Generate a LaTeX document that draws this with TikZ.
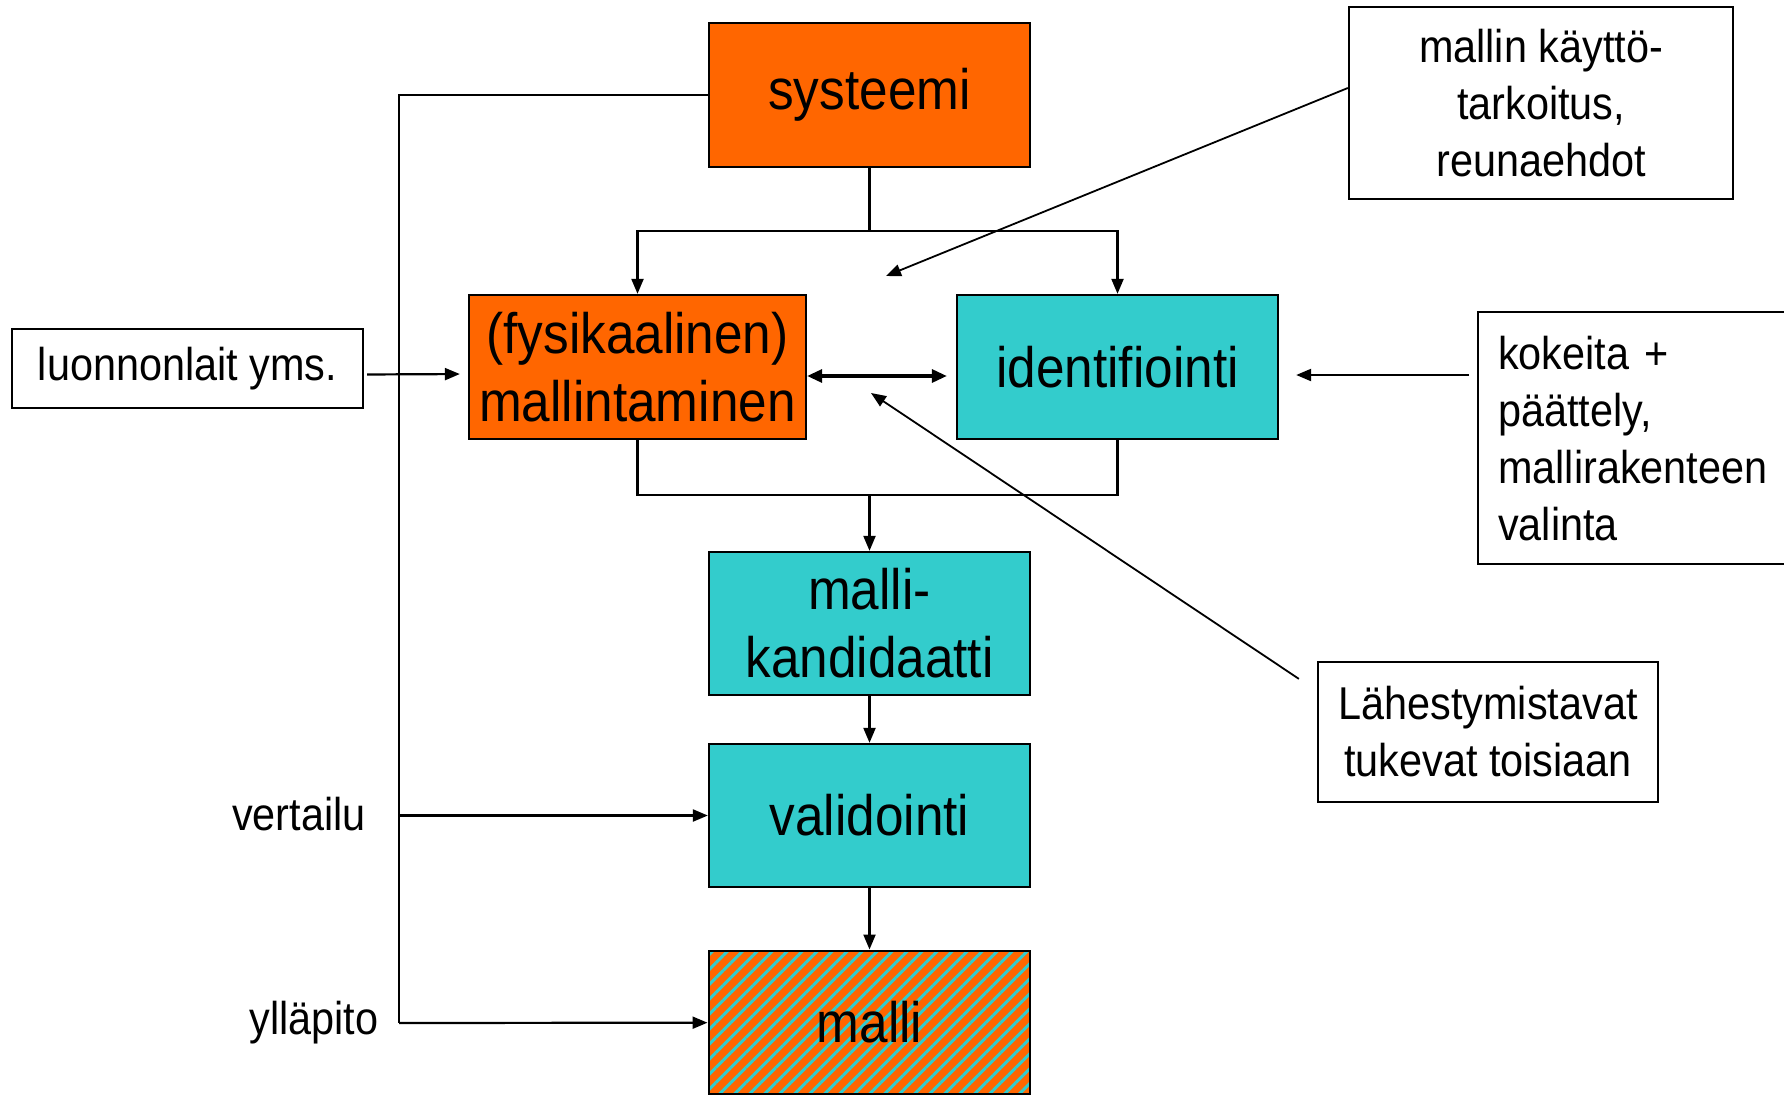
\documentclass[tikz,border=0pt]{standalone}
\usepackage{fontspec}
\setmainfont{Liberation Sans}[FakeStretch=0.9]
\usetikzlibrary{arrows.meta,patterns.meta}
\definecolor{oranssi}{HTML}{FF6600}
\definecolor{turkoosi}{HTML}{33CCCC}
\begin{document}
\begin{tikzpicture}[x=1pt,y=-1pt,line width=2.2pt,
  box/.style={draw,line width=2.3pt,inner sep=0pt,minimum width=321pt,minimum height=144pt,align=center,font=\fontsize{57}{68}\selectfont},
  note/.style={draw,line width=2.3pt,inner sep=0pt,align=center,font=\fontsize{46}{57}\selectfont},
  arr/.style={-{Triangle[length=15pt,width=12pt]}}]
\useasboundingbox (0,0) rectangle (1784,1094);
\clip (0,0) rectangle (1784,1094);
% main chain
\node[box, fill=oranssi] (sys) at (869.5,95) {systeemi};
\node[box, fill=oranssi, minimum width=337pt] (fys) at (637.5,367) {(fysikaalinen)\\mallintaminen};
\node[box, fill=turkoosi] (ident) at (1117.5,367) {identifiointi};
\node[box, fill=turkoosi, minimum height=143pt] (kand) at (869.5,623.5) {malli-\\kandidaatti};
\node[box, fill=turkoosi, minimum height=143pt] (valid) at (869.5,815.5) {validointi};
\node[box, minimum height=143pt, preaction={fill=oranssi},
  pattern={Lines[angle=45,distance=10.6pt,line width=3pt]}, pattern color=turkoosi] (malli) at (869.5,1022.5) {malli};
% side notes
\node[note, minimum width=351pt, minimum height=79pt] (luonnon) at (187.5,368.5) {luonnonlait yms.};
\node[note, minimum width=384pt, minimum height=192pt] (kaytto) at (1541,103) {mallin käyttö-\\tarkoitus,\\reunaehdot};
\node[note, anchor=north west, align=left, inner xsep=20pt, text width=300pt, minimum height=252pt] (kokeita) at (1477,311) {kokeita +\\päättely,\\mallirakenteen\\valinta};
\node[note, minimum width=340pt, minimum height=140pt] (lahest) at (1488,732) {Lähestymistavat\\tukevat toisiaan};
\node[font=\fontsize{46}{57}\selectfont] (vert) at (299,814) {vertailu};
\node[font=\fontsize{46}{57}\selectfont] (yllap) at (314,1023) {ylläpito};
% junctions
\coordinate (split) at (869.5,231);
\coordinate (merge) at (869.5,495);
\coordinate (railtop) at (399,95);
\coordinate (railbot) at (399,1023);
\coordinate (kayttotip) at (886,276);
\coordinate (lahesttip) at (871,393);
% connectors
\path[draw] (sys) -- (split);
\path[draw,arr] (split) -| (fys);
\path[draw,arr] (split) -| (ident);
\path[draw] (fys) |- (merge);
\path[draw] (ident) |- (merge);
\path[draw,arr] (merge) -- (kand);
\path[draw,arr] (kand) -- (valid);
\path[draw,arr] (valid) -- (malli);
\path[draw] (sys) -- (railtop) -- (railbot);
\path[draw,arr] (railbot) -- (malli);
\path[draw,arr] (railtop |- valid) -- (valid);
\path[draw,arr,shorten <=3pt,shorten >=8pt] ([yshift=-6pt]luonnon.east) -- ([yshift=-7pt]fys.west);
\path[draw,line width=3.2pt,{Triangle[length=15pt,width=13pt]}-{Triangle[length=15pt,width=13pt]},shorten >=9pt] ([yshift=-9pt]fys.east) -- ([yshift=-9pt]ident.west);
\path[draw,arr,shorten <=8pt,shorten >=17pt] ([yshift=-8pt]ident.east -| kokeita.west) -- ([yshift=-8pt]ident.east);
\path[draw,arr,line width=1.8pt] ([yshift=15pt]kaytto.west) -- (kayttotip);
\path[draw,arr,line width=1.8pt] ([shift={(-18,18)}]lahest.north west) -- (lahesttip);
\end{tikzpicture}
\end{document}
